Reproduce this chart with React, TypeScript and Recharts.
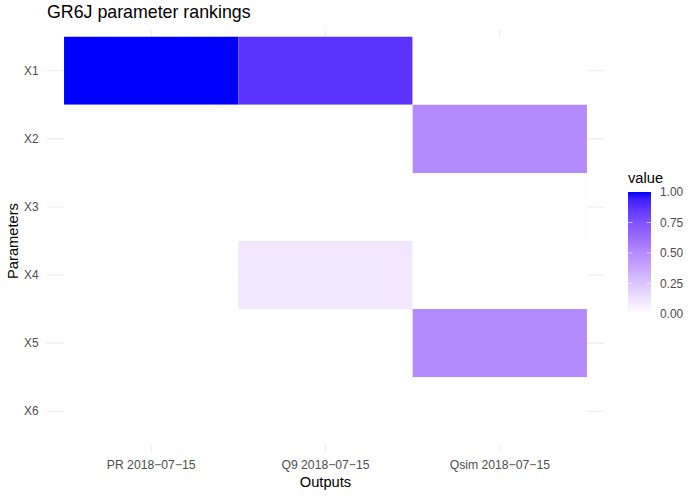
import React from 'react';
import { ComposedChart, Scatter, XAxis, YAxis, CartesianGrid, ReferenceArea } from 'recharts';

const outputs = ['PR 2018-07-15', 'Q9 2018-07-15', 'Qsim 2018-07-15'];
const parameters = ['X1', 'X2', 'X3', 'X4', 'X5', 'X6'];
const prValues = [1, 0, 0, 0, 0, 0];
const q9Values = [0.87, 0, 0, 0.1, 0, 0];
const qsimValues = [0, 0.5, 0.01, 0, 0.5, 0];
const legendTicks = [1, 0.75, 0.5, 0.25, 0];
const xTicks = [1, 2, 3];
const yTicks = [1, 2, 3, 4, 5, 6];

const seriesByOutput = [prValues, q9Values, qsimValues];

// --- Lab interpolation white -> blue (like ggplot's scale_fill_gradient) ---
const toLin = (c: number) => { c /= 255; return c <= 0.04045 ? c / 12.92 : Math.pow((c + 0.055) / 1.055, 2.4); };
const fromLin = (c: number) => { const v = c <= 0.0031308 ? 12.92 * c : 1.055 * Math.pow(c, 1 / 2.4) - 0.055; return Math.max(0, Math.min(255, Math.round(v * 255))); };
const Xn = 0.95047, Yn = 1, Zn = 1.08883;
const f = (t: number) => (t > 0.008856 ? Math.cbrt(t) : 7.787 * t + 16 / 116);
const finv = (t: number) => (t * t * t > 0.008856 ? t * t * t : (t - 16 / 116) / 7.787);
function rgbToLab([r, g, b]: number[]) {
  const R = toLin(r), G = toLin(g), B = toLin(b);
  const X = 0.4124 * R + 0.3576 * G + 0.1805 * B;
  const Y = 0.2126 * R + 0.7152 * G + 0.0722 * B;
  const Z = 0.0193 * R + 0.1192 * G + 0.9505 * B;
  const fx = f(X / Xn), fy = f(Y / Yn), fz = f(Z / Zn);
  return [116 * fy - 16, 500 * (fx - fy), 200 * (fy - fz)];
}
function labToHex([L, a, bb]: number[]) {
  const fy = (L + 16) / 116, fx = fy + a / 500, fz = fy - bb / 200;
  const X = Xn * finv(fx), Y = Yn * finv(fy), Z = Zn * finv(fz);
  const R = 3.2406 * X - 1.5372 * Y - 0.4986 * Z;
  const G = -0.9689 * X + 1.8758 * Y + 0.0415 * Z;
  const B = 0.0557 * X - 0.204 * Y + 1.057 * Z;
  return '#' + [R, G, B].map((c) => fromLin(c).toString(16).padStart(2, '0')).join('');
}
const LOW = rgbToLab([255, 255, 255]);
const HIGH = rgbToLab([0, 0, 255]);
const colorFor = (t: number) => labToHex(LOW.map((v, i) => v + (HIGH[i] - v) * t));

const cells = outputs.flatMap((o, ci) =>
  parameters.map((p, ri) => ({ x: ci + 1, y: ri + 1, value: seriesByOutput[ci][ri], output: o, param: p }))
);

const FONT = '"Liberation Sans", Arial, Helvetica, sans-serif';

const ColorbarLegend = () => {
  const stops = Array.from({ length: 21 }, (_, i) => i / 20);
  const barH = 122, barW = 23;
  return (
    <svg width={70} height={150} style={{ position: 'absolute', left: 628, top: 170, display: 'block', fontFamily: FONT }}>
      <defs>
        <linearGradient id="cbar" x1="0" y1="1" x2="0" y2="0">
          {stops.map((s) => (
            <stop key={s} offset={s} stopColor={colorFor(s)} />
          ))}
        </linearGradient>
      </defs>
      <text x={0} y={13} fontSize={14.7} fill="#000">value</text>
      <rect x={0} y={22} width={barW} height={barH} fill="url(#cbar)" />
      {legendTicks.map((t) => {
        const y = 22 + (1 - t) * barH;
        return (
          <g key={t}>
            {t > 0 && t < 1 && (
              <>
                <line x1={0} x2={4.6} y1={y} y2={y} stroke="#ffffff" strokeOpacity={0.6} strokeWidth={1} />
                <line x1={barW - 4.6} x2={barW} y1={y} y2={y} stroke="#ffffff" strokeOpacity={0.6} strokeWidth={1} />
              </>
            )}
            <text x={32} y={y + 4} fontSize={11.9} fill="#4D4D4D">{t.toFixed(2)}</text>
          </g>
        );
      })}
    </svg>
  );
};

export default function App() {
  return (
    <div style={{ position: 'absolute', left: 0, top: 0, width: 698, height: 497, background: '#fff', fontFamily: FONT }}>
      <div style={{ position: 'absolute', left: 47, top: 2, fontSize: 17.8, color: '#000', fontFamily: FONT, whiteSpace: 'nowrap' }}>
        GR6J parameter rankings
      </div>
      <ComposedChart width={698} height={497} margin={{ top: 30, right: 93.6, bottom: 0, left: 0 }} data={cells}>
        <CartesianGrid stroke="#EBEBEB" strokeWidth={1.07} horizontalValues={yTicks} verticalValues={xTicks} />
        <XAxis
          type="number"
          dataKey="x"
          domain={[0.4, 3.6]}
          ticks={xTicks}
          allowDataOverflow
          height={45}
          axisLine={false}
          tickLine={false}
          tickMargin={2}
          tick={{ fontSize: 12.2, fill: '#4D4D4D', fontFamily: FONT }}
          tickFormatter={(v: number) => (outputs[v - 1] ?? '').replace(/-/g, '\u2212')}
          label={(props: any) => {
            const vb = props.viewBox || {};
            return (
              <text x={vb.x + vb.width / 2} y={487} textAnchor="middle" fontSize={14.7} fill="#000" fontFamily={FONT}>Outputs</text>
            );
          }}
        />
        <YAxis
          type="number"
          dataKey="y"
          domain={[0.4, 6.6]}
          reversed
          ticks={yTicks}
          allowDataOverflow
          width={46.6}
          axisLine={false}
          tickLine={false}
          tick={{ fontSize: 11.9, fill: '#4D4D4D', fontFamily: FONT }}
          tickFormatter={(v: number) => parameters[v - 1] ?? ''}
          label={(props: any) => {
            const vb = props.viewBox || {};
            const cy = vb.y + vb.height / 2;
            return (
              <text x={18} y={cy} transform={`rotate(-90, 18, ${cy})`} textAnchor="middle" fontSize={14.7} fill="#000" fontFamily={FONT}>Parameters</text>
            );
          }}
        />
        {cells.map((c) => (
          <ReferenceArea
            key={`${c.output}-${c.param}`}
            x1={c.x - 0.5}
            x2={c.x + 0.5}
            y1={c.y - 0.5}
            y2={c.y + 0.5}
            fill={colorFor(c.value)}
            fillOpacity={1}
            stroke="none"
            ifOverflow="visible"
          />
        ))}
        <Scatter dataKey="y" fill="none" isAnimationActive={false} shape={() => <g />} legendType="none" />
      </ComposedChart>
      <ColorbarLegend />
    </div>
  );
}
